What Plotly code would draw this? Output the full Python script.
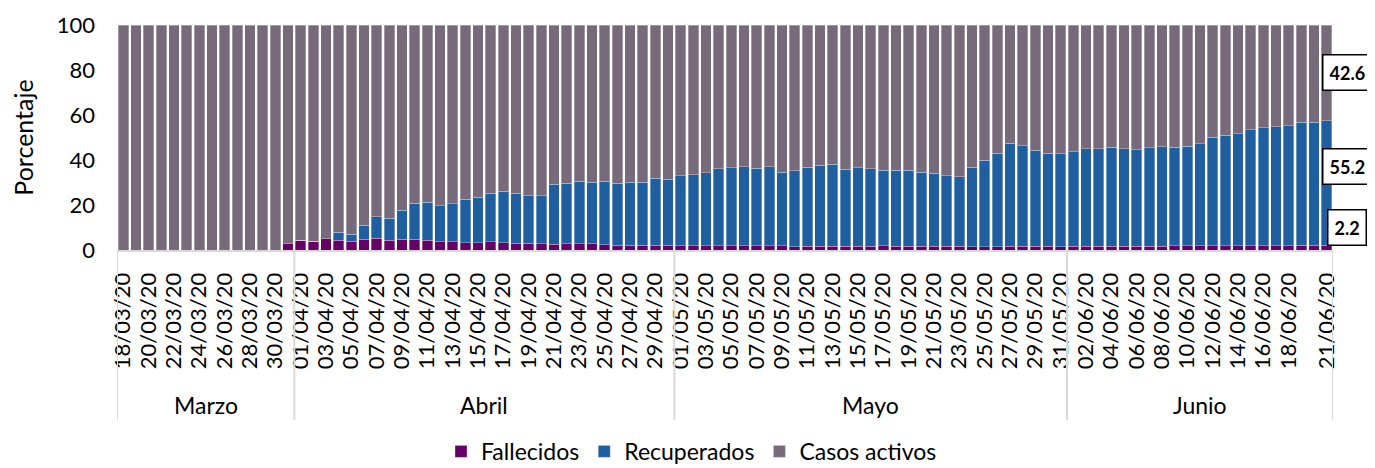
import plotly.graph_objects as go
import pandas as pd

# ---------------- data ----------------
fechas = pd.date_range("2020-03-18", "2020-06-21", freq="D")
dias = [d.strftime("%d/%m/%y") for d in fechas]
nombres_mes = {3: "Marzo", 4: "Abril", 5: "Mayo", 6: "Junio"}

fallecidos = (
    [0.0] * 13 + [2.8] +
    [4.4, 4.0, 5.0, 4.4, 4.0, 4.7, 5.2, 4.4, 4.7, 4.7, 4.4, 3.7, 3.7, 3.3, 3.3,
     3.6, 3.3, 3.0, 3.0, 2.8, 2.5, 2.8, 2.7, 2.7, 2.4, 2.1, 2.1, 2.1, 2.1, 2.1] +
    [2.0, 2.0, 1.9, 1.9, 1.9, 1.9, 1.8, 1.8, 1.8, 1.5, 1.7, 1.7, 1.7, 1.7, 1.7, 1.7,
     1.8, 1.7, 1.7, 1.7, 1.7, 1.7, 1.6, 1.5, 1.5, 1.5, 1.6, 1.6, 1.6, 1.6, 1.5] +
    [1.6, 1.6, 1.6, 1.6, 1.7, 1.7, 1.7, 1.7, 1.8, 1.8, 1.8, 1.8, 1.8, 1.9, 1.9, 1.9,
     2.0, 2.0, 2.1, 2.2, 2.2]
)

recuperados = (
    [0.0] * 14 +
    [0.0, 0.0, 0.0, 3.5, 3.0, 6.4, 9.5, 9.8, 12.9, 16.0, 16.8, 16.0, 16.9, 19.2, 20.1,
     21.6, 22.8, 22.2, 21.1, 21.3, 26.7, 26.8, 27.8, 27.4, 28.1, 27.5, 28.0, 28.0, 29.8, 29.3] +
    [30.9, 31.5, 32.5, 34.2, 34.7, 35.1, 34.5, 35.2, 32.7, 33.8, 35.0, 35.9, 36.4, 34.3,
     34.9, 34.4, 33.6, 33.7, 33.7, 32.8, 32.4, 31.2, 31.0, 35.2, 38.5, 41.5, 45.8, 44.8,
     42.7, 41.4, 41.3] +
    [42.0, 43.4, 43.4, 44.0, 43.3, 42.9, 43.8, 44.1, 43.8, 44.3, 45.5, 48.3, 49.2, 49.8,
     51.6, 52.5, 52.8, 53.3, 54.6, 54.5, 55.2]
)

activos = (
    [100.0] * 13 + [97.2] +
    [95.6, 96.0, 95.0, 92.1, 93.0, 88.9, 85.3, 85.8, 82.4, 79.3, 78.8, 80.3, 79.4, 77.5,
     76.6, 74.8, 73.9, 74.8, 75.9, 75.9, 70.8, 70.4, 69.5, 69.9, 69.5, 70.4, 69.9, 69.9,
     68.1, 68.6] +
    [67.1, 66.5, 65.6, 63.9, 63.4, 63.0, 63.7, 63.0, 65.5, 64.7, 63.3, 62.4, 61.9, 64.0,
     63.4, 63.9, 64.6, 64.6, 64.6, 65.5, 65.9, 67.1, 67.4, 63.3, 60.0, 57.0, 52.6, 53.6,
     55.7, 57.0, 57.2] +
    [56.4, 55.0, 55.0, 54.4, 55.0, 55.4, 54.5, 54.2, 54.4, 53.9, 52.7, 49.9, 49.0, 48.3,
     46.5, 45.6, 45.2, 44.7, 43.3, 43.3, 42.6]
)

y_ticks = [0, 20, 40, 60, 80, 100]

# ---------------- style ----------------
FONT = "Lato"
C_FALL = "#660066"
C_REC = "#1F5FA0"
C_ACT = "#776A7A"
AXIS_GREY = "#D9D9D9"

n = len(dias)
xpos = list(range(n))
line = dict(width=0.7, color="rgba(255,255,255,0.45)")

fig = go.Figure()
fig.add_bar(x=xpos, y=fallecidos, name="Fallecidos", marker=dict(color=C_FALL, line=line))
fig.add_bar(x=xpos, y=recuperados, name="Recuperados", marker=dict(color=C_REC, line=line))
fig.add_bar(x=xpos, y=activos, name="Casos activos", marker=dict(color=C_ACT, line=line))

# x tick labels: every other day, last label replaced by final day
tick_idx = list(range(0, n - 2, 2)) + [n - 1]

# month groups
meses = [d.month for d in fechas]
grupos = []
start = 0
for i in range(1, n + 1):
    if i == n or meses[i] != meses[start]:
        grupos.append((start, i - 1, nombres_mes[meses[start]]))
        start = i

shapes = []
annotations = []
bottom = -0.755
for (a, b, nombre) in grupos:
    shapes.append(dict(type="line", xref="x", yref="paper", x0=a - 0.5, x1=a - 0.5,
                       y0=0, y1=bottom, line=dict(color=AXIS_GREY, width=2)))
    annotations.append(dict(xref="x", yref="paper", x=(a + b) / 2, y=-0.69,
                            text=nombre, showarrow=False,
                            font=dict(family=FONT, size=23, color="black"),
                            yanchor="middle"))
shapes.append(dict(type="line", xref="x", yref="paper", x0=n - 0.5, x1=n - 0.5,
                   y0=0, y1=bottom, line=dict(color=AXIS_GREY, width=2)))

# end-of-series value labels
last_vals = [(activos[-1], 78.8), (recuperados[-1], 36.9), (fallecidos[-1], 9.8)]
for val, ypos in last_vals:
    annotations.append(dict(xref="paper", yref="y", x=1, y=ypos, xshift=14,
                            text=f"<b>{val:.1f}</b>", showarrow=False,
                            font=dict(family=FONT, size=18, color="black"),
                            bgcolor="white", bordercolor="black", borderwidth=1.5,
                            borderpad=6, xanchor="center", yanchor="middle"))

# page body has an 8px default margin: figure is sized/offset to compensate
fig.update_layout(
    barmode="stack",
    bargap=0.18,
    width=1367, height=460,
    margin=dict(l=109, r=42, t=17, b=218),
    plot_bgcolor="white", paper_bgcolor="white",
    font=dict(family=FONT, size=22, color="black"),
    showlegend=True,
    legend=dict(orientation="h", xref="container", yref="container",
                x=0.5, xanchor="center", y=0.036, yanchor="middle",
                traceorder="normal", font=dict(family=FONT, size=23),
                itemwidth=30),
    shapes=shapes,
    annotations=annotations,
)
fig.update_xaxes(
    range=[-0.5, n - 0.5], tickmode="array",
    tickvals=tick_idx, ticktext=[dias[i] for i in tick_idx],
    tickangle=-90, tickfont=dict(family=FONT, size=22),
    showline=True, linecolor=AXIS_GREY, linewidth=2, automargin=False,
    showgrid=False, zeroline=False, ticks="", ticklabelstandoff=12,
)
fig.update_yaxes(
    range=[0, 100], tickmode="array", tickvals=y_ticks,
    tickfont=dict(family=FONT, size=22), automargin=False,
    showgrid=False, zeroline=False, showline=False, ticks="",
    ticklabelstandoff=21,
    title=dict(text="Porcentaje", font=dict(family=FONT, size=25), standoff=18),
)

fig.write_html("out.html")
